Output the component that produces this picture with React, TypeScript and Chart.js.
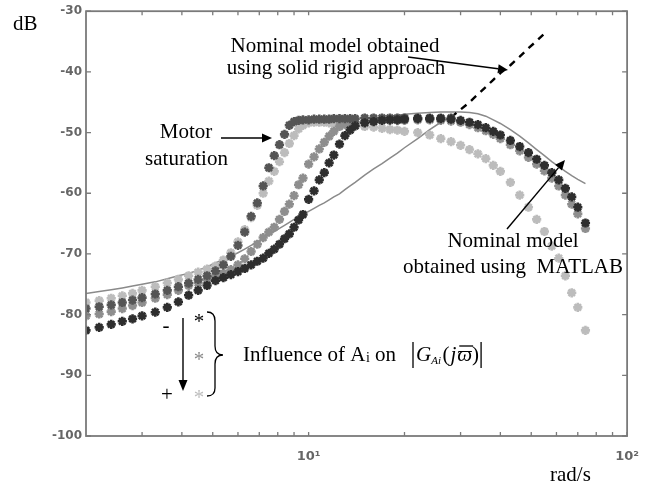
import React, { useEffect, useRef } from "react";
import { Chart, registerables } from "chart.js";

Chart.register(...registerables);

// Frequencies (rad/s) of the measured points
const frequencies = [
  2.0, 2.2, 2.4, 2.6, 2.8, 3.0, 3.3, 3.6, 3.9, 4.2, 4.5, 4.8, 5.1, 5.4, 5.7, 6.0,
  6.3, 6.6, 6.9, 7.2, 7.5, 7.8, 8.1, 8.4, 8.7, 9.0, 9.3, 9.6, 10, 10.4, 10.8, 11.2,
  11.6, 12, 12.5, 13, 13.5, 14, 15, 16, 17, 18, 19, 20, 22, 24, 26, 28, 30, 32, 34,
  36, 38, 40, 43, 46, 49, 52, 55, 58, 61, 64, 67, 70, 74,
];

// Measured magnitude (dB), darkest stars
const blackStars = [
  -82.6, -82.1, -81.6, -81.1, -80.7, -80.2, -79.6, -78.8, -77.9, -76.8, -76.0, -75.2, -74.4, -73.9, -73.4, -72.9,
  -72.4, -71.8, -71.2, -70.7, -69.9, -69.2, -68.4, -67.5, -66.7, -65.6, -64.4, -63.5, -61.0, -59.6, -57.8, -56.6,
  -55.0, -53.7, -51.9, -50.5, -49.6, -48.9, -48.4, -48.2, -48.0, -47.9, -47.9, -47.8, -47.7, -47.7, -47.7, -47.8,
  -48.0, -48.3, -48.7, -49.2, -49.8, -50.4, -51.3, -52.3, -53.3, -54.4, -55.4, -56.6, -57.8, -59.2, -60.6, -62.3, -64.9,
];

// Mid-grey stars
const grayStars = [
  -80.2, -79.9, -79.5, -79.0, -78.5, -78.0, -77.3, -76.7, -76.0, -75.2, -74.8, -74.3, -73.8, -73.2, -72.6, -71.8,
  -70.8, -69.6, -68.4, -67.3, -66.4, -65.6, -64.3, -63.0, -61.8, -60.4, -58.6, -57.5, -55.2, -54.0, -52.7, -51.6,
  -50.6, -49.8, -49.0, -48.6, -48.4, -48.3, -48.2, -48.1, -48.0, -48.0, -48.0, -48.0, -47.9, -47.9, -48.0, -48.1,
  -48.3, -48.7, -49.2, -49.7, -50.3, -51.0, -52.0, -53.0, -54.1, -55.2, -56.3, -57.5, -58.8, -60.3, -61.8, -63.4, -65.8,
];

// Dark-grey stars, motor saturation (first 48 frequencies)
const saturationDarkStars = [
  -79.0, -78.7, -78.4, -78.0, -77.6, -77.2, -76.6, -76.0, -75.4, -74.8, -74.2, -73.6, -72.8, -71.8, -70.4, -68.6,
  -66.4, -63.8, -61.6, -58.8, -55.8, -53.8, -52.0, -50.3, -48.8, -48.2, -48.0, -47.9, -47.9, -47.8, -47.8, -47.8,
  -47.8, -47.7, -47.7, -47.7, -47.7, -47.7, -47.6, -47.6, -47.6, -47.6, -47.6, -47.6, -47.6, -47.6, -47.6, -47.6,
];

// Light-grey stars, motor saturation
const saturationLightStars = [
  -78.0, -77.7, -77.3, -76.9, -76.5, -76.0, -75.4, -74.8, -74.2, -73.6, -73.0, -72.5, -72.0, -71.0, -69.8, -68.0,
  -66.0, -64.0, -62.0, -60.0, -58.0, -56.4, -54.8, -53.3, -51.8, -50.5, -49.4, -48.8, -48.4, -48.3, -48.3, -48.3,
  -48.4, -48.5, -48.6, -48.7, -48.8, -48.9, -49.0, -49.1, -49.3, -49.5, -49.6, -49.8, -50.0, -50.4, -51.0, -51.5,
  -52.1, -52.8, -53.5, -54.3, -55.4, -56.4, -58.2, -60.3, -62.3, -64.3, -66.3, -68.7, -70.7, -73.6, -76.4, -78.8, -82.6,
];

// Nominal model, solid rigid approach: solid part (from index 0) and dashed part (from index 47)
const rigidModel = [
  -76.5, -76.2, -75.9, -75.6, -75.3, -75.0, -74.6, -74.1, -73.6, -73.2, -72.7, -72.1, -71.5, -70.9, -70.4, -69.8,
  -69.2, -68.6, -68.0, -67.4, -66.8, -66.3, -65.8, -65.3, -64.8, -64.3, -63.9, -63.5, -63.0, -62.5, -62.0, -61.6,
  -61.1, -60.6, -60.1, -59.4, -58.8, -58.2, -57.0, -56.0, -55.1, -54.2, -53.4, -52.5, -51.0, -49.5, -48.3, -47.5,
];
const rigidDashedStart = 47;
const rigidModelDashed = [-47.5, -46.2, -45.0, -43.7, -42.5, -41.3, -40.2, -38.9, -37.5, -36.1, -34.9, -33.7];

// Nominal model obtained using MATLAB (from index 37)
const matlabStart = 37;
const matlabModel = [
  -48.6, -48.2, -47.9, -47.6, -47.4, -47.2, -47.0, -46.8, -46.7, -46.6, -46.6, -46.6, -46.7, -46.9, -47.3, -47.9,
  -48.5, -49.5, -50.6, -51.7, -52.8, -53.8, -54.8, -55.6, -56.4, -57.1, -57.7, -58.4,
];

const yTicks = [-30, -40, -50, -60, -70, -80, -90, -100];
const xMajorTicks = [10, 100];
const xTickLabels = ["10\u00B9", "10\u00B2"];
const xMinorTicks = [3, 4, 5, 6, 7, 8, 9, 20, 30, 40, 50, 60, 70, 80, 90];

function toXY(values: (number | null)[], start = 0) {
  return values.map((v, i) => ({ x: frequencies[start + i], y: v }));
}

const SERIF = '"Liberation Serif", "Times New Roman", serif';

function arrow(ctx: CanvasRenderingContext2D, x1: number, y1: number, x2: number, y2: number, head = 10, half = 4) {
  const ang = Math.atan2(y2 - y1, x2 - x1);
  const bx = x2 - head * Math.cos(ang);
  const by = y2 - head * Math.sin(ang);
  ctx.beginPath();
  ctx.moveTo(x1, y1);
  ctx.lineTo(bx, by);
  ctx.stroke();
  ctx.beginPath();
  ctx.moveTo(x2, y2);
  ctx.lineTo(bx + half * Math.sin(ang), by - half * Math.cos(ang));
  ctx.lineTo(bx - half * Math.sin(ang), by + half * Math.cos(ang));
  ctx.closePath();
  ctx.fill();
}

const decorPlugin = {
  id: "decor",
  afterDraw(chart: any) {
    const { ctx, chartArea: a, scales } = chart;
    const x = scales.x;
    const y = scales.y;
    ctx.save();
    // frame
    ctx.strokeStyle = "#7a7a7a";
    ctx.lineWidth = 1.8;
    ctx.strokeRect(a.left, a.top, a.right - a.left, a.bottom - a.top);
    // inward ticks
    ctx.lineWidth = 1.3;
    ctx.beginPath();
    for (const v of yTicks) {
      const py = y.getPixelForValue(v);
      ctx.moveTo(a.left, py);
      ctx.lineTo(a.left + 5, py);
      ctx.moveTo(a.right, py);
      ctx.lineTo(a.right - 5, py);
    }
    for (const v of [...xMinorTicks, ...xMajorTicks]) {
      const px = x.getPixelForValue(v);
      ctx.moveTo(px, a.bottom);
      ctx.lineTo(px, a.bottom - 4);
      ctx.moveTo(px, a.top);
      ctx.lineTo(px, a.top + 4);
    }
    ctx.stroke();

    // annotations
    ctx.fillStyle = "#000";
    ctx.strokeStyle = "#000";
    ctx.font = `21px ${SERIF}`;
    ctx.textBaseline = "alphabetic";
    ctx.textAlign = "left";
    ctx.fillText("dB", 13, 30);
    ctx.fillText("rad/s", 550, 481);

    ctx.textAlign = "center";
    ctx.fillText("Nominal model obtained", 335, 52);
    ctx.fillText("using solid rigid approach", 336, 74);
    ctx.fillText("Motor", 186, 138);
    ctx.fillText("saturation", 186.5, 165);
    ctx.fillText("Nominal model", 513, 247);
    ctx.fillText("obtained using  MATLAB", 513, 273);

    ctx.lineWidth = 1.4;
    arrow(ctx, 221, 138, 272, 138, 10, 4.5);
    arrow(ctx, 408, 57, 508, 70, 10, 4.5);
    arrow(ctx, 507, 229, 565, 160, 10, 4.5);

    // influence legend
    ctx.textAlign = "center";
    ctx.fillText("-", 166, 332);
    ctx.fillText("+", 167, 401);
    ctx.lineWidth = 1.4;
    arrow(ctx, 183, 318, 183, 391, 11, 4.5);
    const starColors = ["#000000", "#8a8a8a", "#bdbdbd"];
    const starY = [328, 366, 404];
    starColors.forEach((c, i) => {
      ctx.fillStyle = c;
      ctx.fillText("*", 199, starY[i]);
    });
    ctx.fillStyle = "#000";
    // brace
    ctx.lineWidth = 1.3;
    ctx.beginPath();
    ctx.moveTo(207, 312);
    ctx.quadraticCurveTo(215, 312, 215, 321);
    ctx.lineTo(215, 346);
    ctx.quadraticCurveTo(215, 355, 223, 355);
    ctx.quadraticCurveTo(215, 355, 215, 364);
    ctx.lineTo(215, 388);
    ctx.quadraticCurveTo(215, 396, 207, 396);
    ctx.stroke();

    ctx.textAlign = "left";
    let cx = 243;
    const base = 361;
    ctx.font = `21px ${SERIF}`;
    ctx.fillText("Influence of A", cx, base);
    cx += ctx.measureText("Influence of A").width;
    ctx.font = `14px ${SERIF}`;
    ctx.fillText("i", cx + 0.5, base + 1);
    cx += ctx.measureText("i").width + 0.5;
    ctx.font = `21px ${SERIF}`;
    ctx.fillText(" on", cx, base);
    // |G_Ai(jϖ)|
    ctx.lineWidth = 1.3;
    ctx.beginPath();
    ctx.moveTo(413, 342);
    ctx.lineTo(413, 368);
    ctx.stroke();
    ctx.font = `italic 21px ${SERIF}`;
    ctx.fillText("G", 416, base);
    let fx = 416 + ctx.measureText("G").width;
    ctx.font = `italic 11px ${SERIF}`;
    ctx.fillText("Ai", fx, base + 3);
    fx += ctx.measureText("Ai").width + 1.5;
    ctx.font = `21px ${SERIF}`;
    ctx.fillText("(", fx, base);
    fx += ctx.measureText("(").width + 1;
    ctx.font = `italic 21px ${SERIF}`;
    ctx.fillText("j", fx, base);
    fx += ctx.measureText("j").width + 1;
    const wW = ctx.measureText("\u03D6").width;
    ctx.fillText("\u03D6", fx, base);
    ctx.beginPath();
    ctx.moveTo(fx + 2, 346);
    ctx.lineTo(fx + wW + 1, 346);
    ctx.stroke();
    fx += wW;
    ctx.font = `21px ${SERIF}`;
    ctx.fillText(")", fx, base);
    fx += ctx.measureText(")").width + 2;
    ctx.beginPath();
    ctx.moveTo(fx, 342);
    ctx.lineTo(fx, 368);
    ctx.stroke();

    ctx.restore();
  },
};

function starSet(data: any[], color: string) {
  return {
    data,
    showLine: false,
    pointStyle: "star",
    pointRadius: 4.6,
    pointBorderWidth: 2.6,
    borderColor: color,
    backgroundColor: color,
  };
}

export default function App() {
  const ref = useRef<HTMLCanvasElement | null>(null);
  useEffect(() => {
    if (!ref.current) return;
    const chart = new Chart(ref.current, {
      type: "scatter",
      data: {
        datasets: [
          starSet(toXY(blackStars), "#2e2e2e"),
          starSet(toXY(saturationDarkStars), "#555555"),
          starSet(toXY(grayStars), "#8e8e8e"),
          starSet(toXY(saturationLightStars), "#bcbcbc"),
          {
            data: toXY(rigidModel),
            showLine: true,
            pointRadius: 0,
            borderColor: "#8a8a8a",
            borderWidth: 1.5,
          },
          {
            data: toXY(rigidModelDashed, rigidDashedStart),
            showLine: true,
            pointRadius: 0,
            borderColor: "#000",
            borderWidth: 2.4,
            borderDash: [7, 6],
          },
          {
            data: toXY(matlabModel, matlabStart),
            showLine: true,
            pointRadius: 0,
            borderColor: "#8a8a8a",
            borderWidth: 1.5,
          },
        ] as any,
      },
      options: {
        animation: false,
        responsive: false,
        layout: { padding: { left: 0, right: 20, top: 9, bottom: 0 } },
        plugins: { legend: { display: false }, tooltip: { enabled: false } },
        scales: {
          x: {
            type: "logarithmic",
            min: 2,
            max: 100,
            grid: { display: false, drawTicks: false },
            border: { display: false },
            afterBuildTicks: (scale: any) => {
              scale.ticks = xMajorTicks.map((v) => ({ value: v, major: true }));
            },
            afterFit: (scale: any) => {
              scale.height = 54;
            },
            ticks: {
              autoSkip: false,
              maxRotation: 0,
              padding: 13,
              color: "#666666",
              font: { family: "DejaVu Sans", size: 13, weight: "bold" },
              callback: (value: any) => {
                const i = xMajorTicks.indexOf(Number(value));
                return i >= 0 ? xTickLabels[i] : "";
              },
            },
          },
          y: {
            min: -100,
            max: -30,
            grid: { display: false, drawTicks: false },
            border: { display: false },
            afterBuildTicks: (scale: any) => {
              scale.ticks = yTicks.map((v) => ({ value: v }));
            },
            afterFit: (scale: any) => {
              scale.width = 86;
            },
            ticks: {
              padding: 4,
              color: "#666666",
              font: { family: "DejaVu Sans", size: 12, weight: "bold" },
            },
          },
        },
      } as any,
      plugins: [decorPlugin],
    });
    return () => chart.destroy();
  }, []);
  return (
    <div style={{ position: "absolute", left: 0, top: 0, width: 652, height: 490, background: "#fff" }}>
      <canvas ref={ref} width={652} height={490} style={{ display: "block" }} />
    </div>
  );
}
